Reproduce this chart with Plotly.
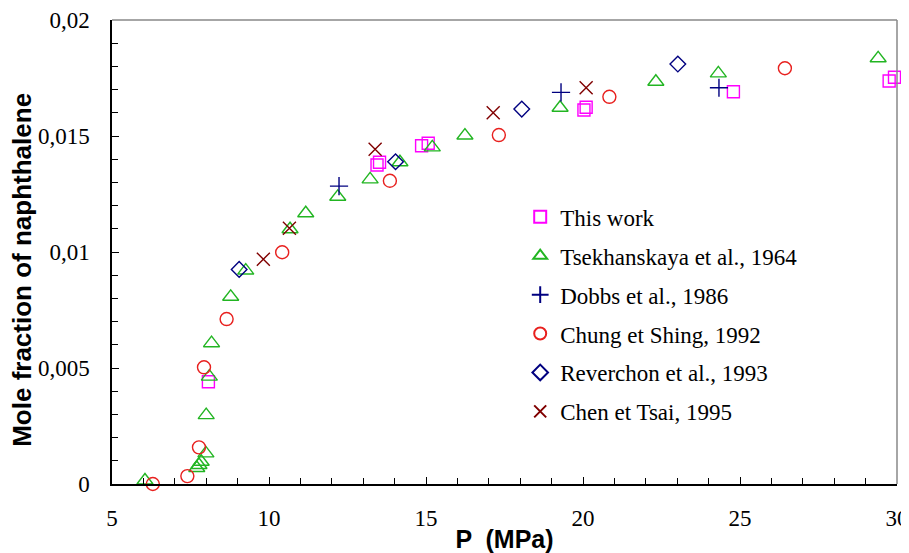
import plotly.graph_objects as go

# ---- data (P in MPa, mole fraction of naphthalene) ----
this_work_p = [8.07, 13.44, 13.52, 14.86, 15.07, 20.03, 20.10, 24.79, 29.75, 29.92]
this_work_y = [0.00441, 0.01375, 0.01387, 0.01458, 0.01469, 0.01612, 0.01624, 0.01691, 0.01737, 0.01753]

tsek_p = [6.05, 7.70, 7.77, 7.84, 7.99, 8.00, 8.10, 8.17, 8.78, 9.26, 10.67, 11.17, 12.19, 13.22, 14.17, 15.20, 16.24, 19.27, 22.32, 24.31, 29.40]
tsek_y = [0.00015, 0.00069, 0.00082, 0.00096, 0.00132, 0.00297, 0.00463, 0.00607, 0.00807, 0.00920, 0.01098, 0.01167, 0.01238, 0.01313, 0.01387, 0.01451, 0.01502, 0.01622, 0.01734, 0.01770, 0.01835]

dobbs_p = [12.23, 19.30, 24.33]
dobbs_y = [0.01284, 0.01688, 0.01708]

chung_p = [6.30, 7.40, 7.77, 7.93, 8.65, 10.42, 13.85, 17.32, 20.84, 26.43]
chung_y = [0.00000, 0.00034, 0.00158, 0.00503, 0.00711, 0.00999, 0.01307, 0.01504, 0.01669, 0.01792]

rev_p = [9.05, 14.03, 18.05, 23.02]
rev_y = [0.00925, 0.01389, 0.01616, 0.01810]

chen_p = [9.82, 10.65, 13.38, 17.14, 20.10]
chen_y = [0.00969, 0.01102, 0.01443, 0.01600, 0.01708]

series_names = ["This work", "Tsekhanskaya et al., 1964", "Dobbs et al., 1986",
                "Chung et Shing, 1992", "Reverchon et al., 1993", "Chen et Tsai, 1995"]

y_tickvals = [0, 0.005, 0.01, 0.015, 0.02]
y_ticktext = ["0", "0,005", "0,01", "0,015", "0,02"]
x_tickvals = [5, 10, 15, 20, 25, 30]
x_ticktext = ["5", "10", "15", "20", "25", "30"]

x_title = "P  (MPa)"
y_title = "Mole fraction of naphthalene"

# ---- styling ----
styles = [
    dict(symbol="square-open", color="#FF00FF", size=12),
    dict(symbol="triangle-up-open", color="#22B522", size=14),
    dict(symbol="cross-thin-open", color="#000080", size=13),
    dict(symbol="circle-open", color="#E8201E", size=13),
    dict(symbol="diamond-open", color="#000080", size=12),
    dict(symbol="x-thin-open", color="#800000", size=13),
]
data = [(this_work_p, this_work_y), (tsek_p, tsek_y), (dobbs_p, dobbs_y),
        (chung_p, chung_y), (rev_p, rev_y), (chen_p, chen_y)]

fig = go.Figure()
for (xs, ys), name, st in zip(data, series_names, styles):
    fig.add_trace(go.Scatter(
        x=xs, y=ys, mode="markers", name=name, legendgroup=name,
        cliponaxis=False,
        marker=dict(symbol=st["symbol"], size=st["size"], color=st["color"],
                    line=dict(color=st["color"], width=1.4)),
    ))

serif = "Liberation Serif"
sans = "Liberation Sans"

fig.update_layout(
    width=909, height=553,
    margin=dict(l=104, r=20, t=12, b=77),
    paper_bgcolor="white", plot_bgcolor="white",
    font=dict(family=serif, size=22, color="black"),
    showlegend=True,
    legend=dict(x=0.52, y=0.622, xanchor="left", yanchor="top",
                bgcolor="rgba(0,0,0,0)", font=dict(family=serif, size=23, color="black"),
                tracegroupgap=6, itemsizing="constant"),
    xaxis=dict(range=[5, 30], tickmode="array", tickvals=x_tickvals, ticktext=x_ticktext,
               automargin=False,
               showgrid=False, zeroline=False, showline=True, linecolor="black", linewidth=1.5,
               ticks="inside", ticklen=7, tickwidth=1, tickcolor="black",
               tickfont=dict(family=serif, size=23), ticklabelstandoff=13,
               minor=dict(dtick=1, ticks="inside", ticklen=6, tickwidth=1, tickcolor="black"),
               title=dict(text=x_title, font=dict(family=sans, size=25, color="black", weight="bold"),
                          standoff=0)),
    yaxis=dict(range=[0, 0.02], tickmode="array", tickvals=y_tickvals, ticktext=y_ticktext,
               automargin=False,
               showgrid=False, zeroline=False, showline=True, linecolor="black", linewidth=1.5,
               ticks="inside", ticklen=7, tickwidth=1, tickcolor="black",
               tickfont=dict(family=serif, size=23), ticklabelstandoff=16,
               minor=dict(dtick=0.001, ticks="inside", ticklen=6, tickwidth=1, tickcolor="black")),
)

fig.add_annotation(text=y_title, xref="paper", yref="paper", x=-0.115, y=0.461,
                   xanchor="center", yanchor="middle", textangle=-90, showarrow=False,
                   font=dict(family=sans, size=26, color="black", weight="bold"))

# gray frame on top and right of the plot area
fig.add_shape(type="line", xref="paper", yref="paper", x0=0, x1=1, y0=1, y1=1,
              line=dict(color="#888888", width=1.5))
fig.add_shape(type="line", xref="paper", yref="paper", x0=1, x1=1, y0=0, y1=1,
              line=dict(color="#888888", width=1.5))

fig.write_html("out.html")
